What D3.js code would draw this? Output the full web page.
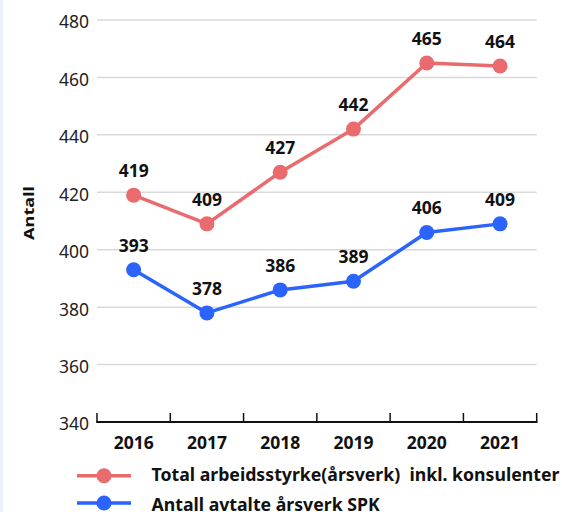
<!DOCTYPE html>
<html>
<head>
<meta charset="utf-8">
<script src="https://cdn.jsdelivr.net/npm/d3@7"></script>
<style>
  html, body { margin: 0; padding: 0; background: #fff; }
  svg { display: block; }
  text { font-family: "Noto Sans", sans-serif; }
</style>
</head>
<body>
<svg id="chart" width="562" height="512"></svg>
<script>
// Årlige tall 2016–2021
const years = ["2016", "2017", "2018", "2019", "2020", "2021"];
const totalArbeidsstyrke = [419, 409, 427, 442, 465, 464];
const avtalteArsverk = [393, 378, 386, 389, 406, 409];
const yTicks = [340, 360, 380, 400, 420, 440, 460, 480];
const seriesNames = [
  "Total arbeidsstyrke(årsverk)  inkl. konsulenter",
  "Antall avtalte årsverk SPK"
];
const seriesColors = ["#e96b6d", "#2a63fe"];

const svg = d3.select("#chart");

// Lys stripe langs venstre kant
svg.append("rect").attr("x", 0).attr("y", 0).attr("width", 3).attr("height", 512)
  .attr("fill", "#e9f1fd");

const x = d3.scaleBand().domain(years).range([97, 536.7]).padding(0);
const y = d3.scaleLinear().domain([340, 480]).range([422, 20]);

// Rutenett
svg.append("g").selectAll("line")
  .data(yTicks.filter(t => t > 340))
  .join("line")
  .attr("x1", x.range()[0]).attr("x2", x.range()[1])
  .attr("y1", d => y(d)).attr("y2", d => y(d))
  .attr("stroke", "#d9d9d9").attr("stroke-width", 1.5);

// Y-akse
const yAxis = svg.append("g")
  .attr("transform", `translate(${x.range()[0]},0)`)
  .call(d3.axisLeft(y).tickValues(yTicks).tickSize(0).tickPadding(8));
yAxis.select(".domain").remove();
yAxis.selectAll("text")
  .attr("font-family", "'Noto Sans', sans-serif")
  .attr("font-size", 17.5)
  .attr("fill", "#222")
  .attr("dy", "0.45em");

// X-akse: linje med markeringer mellom årene
const xAxis = svg.append("g")
  .attr("transform", `translate(0,${y(340)})`)
  .call(d3.axisBottom(x).tickSize(0).tickPadding(10));
xAxis.select(".domain").remove();
xAxis.selectAll("text")
  .attr("font-family", "'Noto Sans', sans-serif")
  .attr("font-size", 17.5)
  .attr("font-weight", "bold")
  .attr("fill", "#111")
  .attr("dy", "0.95em");

const edges = years.map(d => x(d)).concat([x.range()[1]]);
svg.append("g").selectAll("line")
  .data(edges)
  .join("line")
  .attr("x1", d => d).attr("x2", d => d)
  .attr("y1", y(340) - 9).attr("y2", y(340))
  .attr("stroke", "#111").attr("stroke-width", 1.5);
svg.append("line")
  .attr("x1", x.range()[0] - 0.75).attr("x2", x.range()[1] + 0.75)
  .attr("y1", y(340)).attr("y2", y(340))
  .attr("stroke", "#111").attr("stroke-width", 2.2);

// Aksetittel
svg.append("text")
  .attr("transform", `translate(34,213) rotate(-90) scale(1.3,1)`)
  .attr("text-anchor", "middle")
  .attr("font-family", "'Liberation Sans', Arial, sans-serif")
  .attr("font-weight", "bold")
  .attr("font-size", 14)
  .attr("fill", "#111")
  .text("Antall");

// Linjer, punkter og verdietiketter
const series = [totalArbeidsstyrke, avtalteArsverk];
const cx = d => x(d) + x.bandwidth() / 2;
const line = d3.line().x((d, i) => cx(years[i])).y(d => y(d));

series.forEach((vals, s) => {
  const g = svg.append("g");
  g.append("path")
    .attr("d", line(vals))
    .attr("fill", "none")
    .attr("stroke", seriesColors[s])
    .attr("stroke-width", 3.5)
    .attr("stroke-linejoin", "round");
  g.selectAll("circle")
    .data(vals)
    .join("circle")
    .attr("cx", (d, i) => cx(years[i]))
    .attr("cy", d => y(d))
    .attr("r", 7.5)
    .attr("fill", seriesColors[s]);
  g.selectAll("text")
    .data(vals)
    .join("text")
    .attr("x", (d, i) => cx(years[i]))
    .attr("y", d => y(d) - 18)
    .attr("text-anchor", "middle")
    .attr("font-size", 17.5)
    .attr("font-weight", "bold")
    .attr("fill", "#111")
    .text(d => d);
});

// Tegnforklaring
const legend = svg.append("g");
seriesNames.forEach((name, s) => {
  const ly = [475.7, 503][s];
  legend.append("line")
    .attr("x1", 77).attr("x2", 131)
    .attr("y1", ly).attr("y2", ly)
    .attr("stroke", seriesColors[s]).attr("stroke-width", 3.5);
  legend.append("circle")
    .attr("cx", 104).attr("cy", ly).attr("r", 7.5)
    .attr("fill", seriesColors[s]);
  legend.append("text")
    .attr("x", 151.5).attr("y", [481, 510.5][s])
    .attr("font-size", 17.7)
    .attr("font-weight", "bold")
    .attr("fill", "#111")
    .style("white-space", "pre")
    .text(name);
});
</script>
</body>
</html>
